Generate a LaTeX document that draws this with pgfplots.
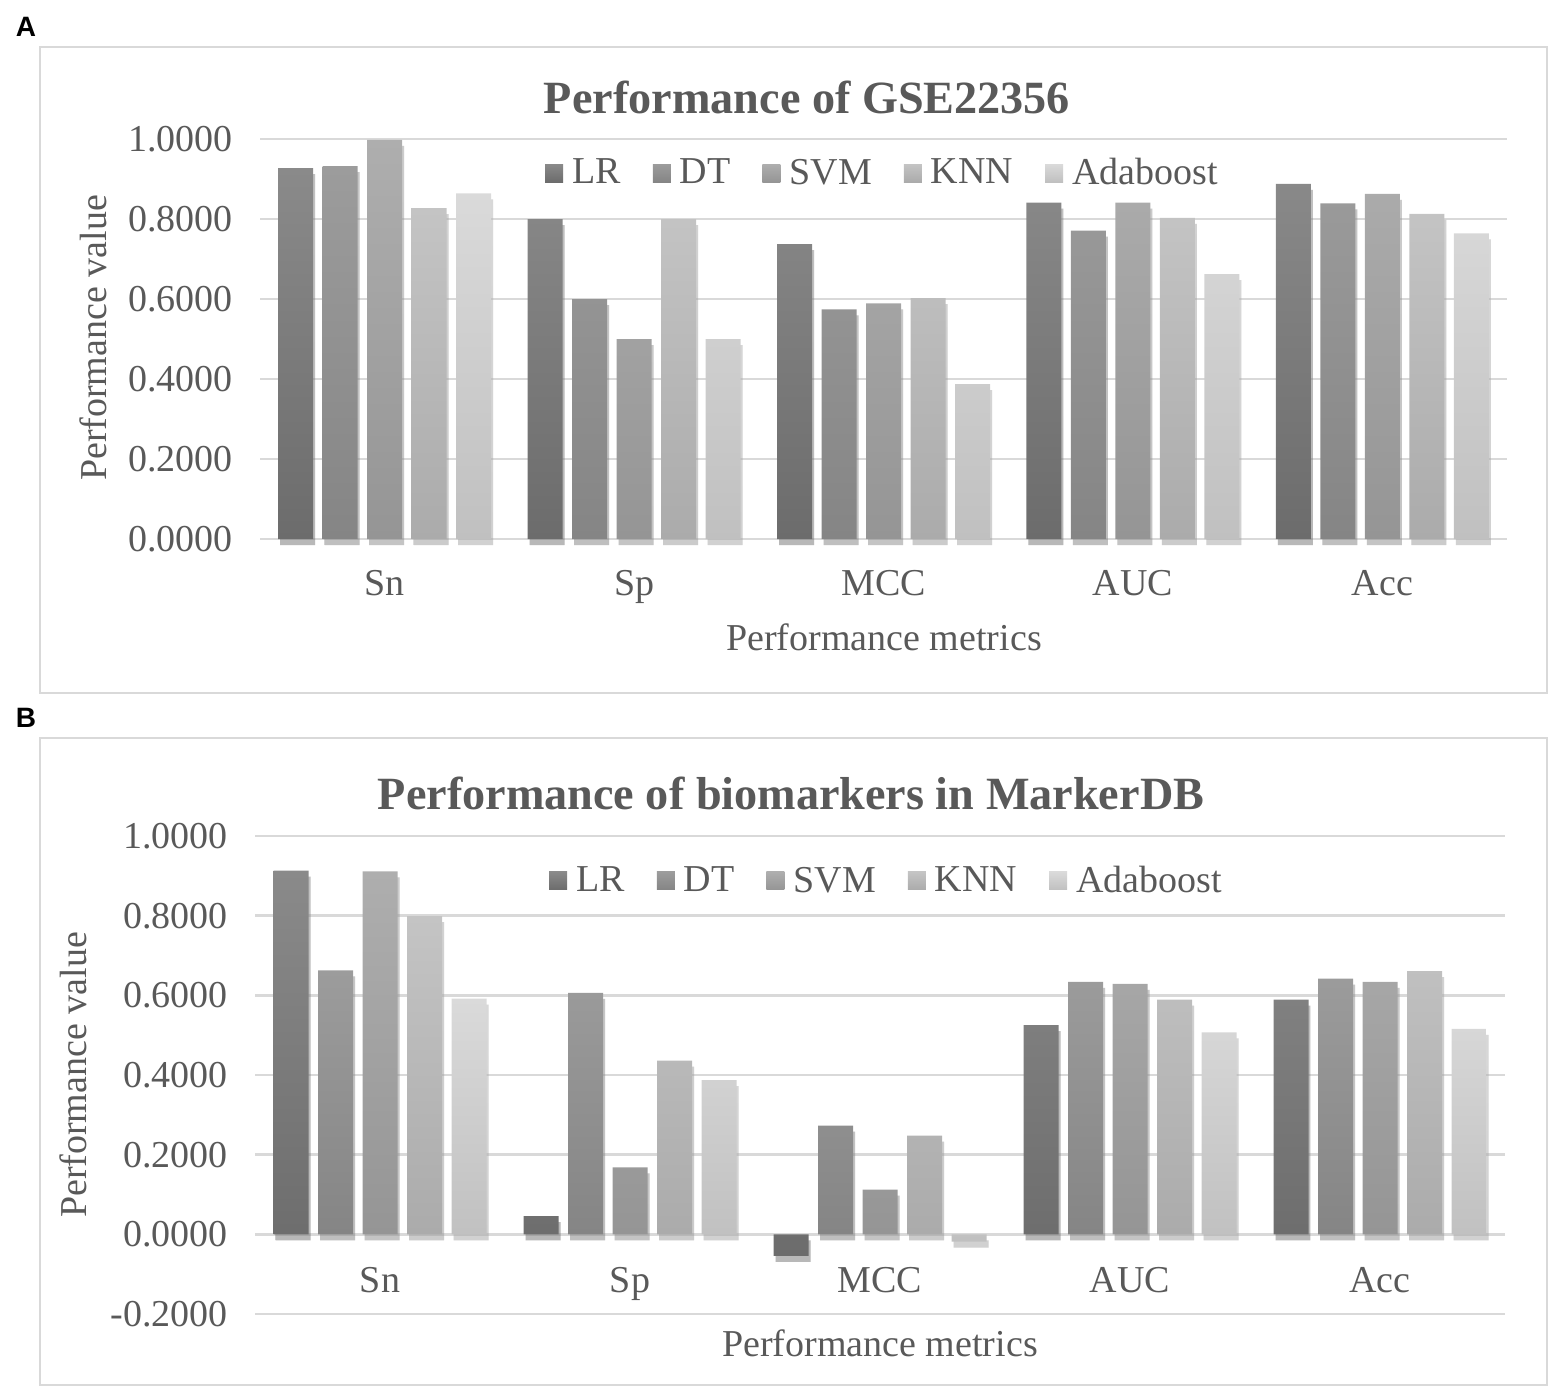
\documentclass[border=0pt]{standalone}
\usepackage{fontspec}
\setmainfont{Liberation Serif}
\newfontfamily\labfont{Liberation Sans}
\usepackage{pgfplots}
\pgfplotsset{compat=1.18}
\usetikzlibrary{shadows}
\definecolor{txt}{HTML}{595959}
\definecolor{gridc}{HTML}{D9D9D9}
\definecolor{boxc}{HTML}{D9D9D9}
\definecolor{lrT}{HTML}{8A8A8A}\definecolor{lrB}{HTML}{6C6C6C}
\definecolor{dtT}{HTML}{9C9C9C}\definecolor{dtB}{HTML}{858585}
\definecolor{svT}{HTML}{AEAEAE}\definecolor{svB}{HTML}{959595}
\definecolor{knT}{HTML}{C4C4C4}\definecolor{knB}{HTML}{ABABAB}
\definecolor{adT}{HTML}{DADADA}\definecolor{adB}{HTML}{C0C0C0}

\pgfplotstableread{
x LR DT SVM KNN Ada
0 0.927 0.932 0.998 0.827 0.864
1 0.800 0.600 0.500 0.800 0.500
2 0.737 0.574 0.589 0.602 0.387
3 0.841 0.771 0.841 0.803 0.662
4 0.888 0.839 0.863 0.813 0.764
}\dataA
\pgfplotstableread{
x LR DT SVM KNN Ada
0 0.913 0.663 0.911 0.799 0.592
1 0.046 0.606 0.168 0.436 0.387
2 -0.054 0.273 0.112 0.248 -0.018
3 0.525 0.634 0.629 0.589 0.507
4 0.589 0.642 0.634 0.661 0.516
}\dataB

\pgfplotsset{
  barsty/.style={ybar, bar width=17.5pt,
    enlargelimits=false, xmin=-0.5, xmax=4.5, clip=false,
    scale only axis,
    axis line style={draw=none}, tick style={draw=none},
    ymajorgrids, grid style={line width=1.2pt, draw=gridc},
    xtick={0,1,2,3,4}, xticklabels={Sn,Sp,MCC,AUC,Acc},
    ticklabel style={font=\fontsize{19}{22}\selectfont, text=txt},
    yticklabel style={xshift=-10pt},
    xticklabel style={anchor=base},
    legend columns=-1,
    legend style={draw=none, fill=none, font=\fontsize{19}{22}\selectfont, text=txt,
      /tikz/every odd column/.append style={column sep=2.5pt},
      /tikz/every even column/.append style={column sep=14pt}},
    legend image code/.code={\path[##1, draw=none] (0pt,-4.5pt) rectangle (9pt,4.5pt);},
  },
  bs/.style n args={3}{draw=none, top color=#1, bottom color=#2, bar shift=#3,
    drop shadow={shadow xshift=1pt, shadow yshift=-3pt, opacity=0.3}},
}

\begin{document}
\begin{tikzpicture}
\useasboundingbox (0,0) rectangle (781pt,-696pt);
% panel frames
\draw[boxc, line width=1.1pt] (20pt,-23.5pt) rectangle (773.5pt,-346.5pt);
\draw[boxc, line width=1.1pt] (20pt,-369pt) rectangle (773.5pt,-692.5pt);
\node[font=\labfont\bfseries\fontsize{14}{16}\selectfont] at (13pt,-13.5pt) {A};
\node[font=\labfont\bfseries\fontsize{14}{16}\selectfont] at (13pt,-359pt) {B};

% ---------- Panel A ----------
\begin{axis}[barsty, at={(130pt,-269.5pt)}, anchor=south west,
  width=623.5pt, height=200pt, ymin=0, ymax=1,
  ytick={0,0.2,0.4,0.6,0.8,1},
  yticklabels={0.0000,0.2000,0.4000,0.6000,0.8000,1.0000},
  xticklabel style={yshift=-24pt},
  legend style={at={(0.5,0.915)}, anchor=center}]
\addplot[forget plot, bs={lrT}{lrB}{-44.5pt}] table[x=x,y=LR]{\dataA};
\addplot[forget plot, bs={dtT}{dtB}{-22.25pt}] table[x=x,y=DT]{\dataA};
\addplot[forget plot, bs={svT}{svB}{0pt}] table[x=x,y=SVM]{\dataA};
\addplot[forget plot, bs={knT}{knB}{22.25pt}] table[x=x,y=KNN]{\dataA};
\addplot[forget plot, bs={adT}{adB}{44.5pt}] table[x=x,y=Ada]{\dataA};
\addlegendimage{top color=lrT, bottom color=lrB}\addlegendentry{LR}
\addlegendimage{top color=dtT, bottom color=dtB}\addlegendentry{DT}
\addlegendimage{top color=svT, bottom color=svB}\addlegendentry{SVM}
\addlegendimage{top color=knT, bottom color=knB}\addlegendentry{KNN}
\addlegendimage{top color=adT, bottom color=adB}\addlegendentry{Adaboost}
\end{axis}
\node[font=\bfseries\fontsize{23.1}{27}\selectfont, text=txt] at (403.5pt,-48.5pt) {Performance of GSE22356};
\node[rotate=90, font=\fontsize{19}{22}\selectfont, text=txt] at (46.5pt,-169pt) {Performance value};
\node[font=\fontsize{19}{22}\selectfont, text=txt] at (442pt,-318.5pt) {Performance metrics};

% ---------- Panel B ----------
\begin{axis}[barsty, at={(127.5pt,-657pt)}, anchor=south west,
  width=625pt, height=239pt, ymin=-0.2, ymax=1,
  ytick={-0.2,0,0.2,0.4,0.6,0.8,1},
  yticklabels={-0.2000,0.0000,0.2000,0.4000,0.6000,0.8000,1.0000},
  xticklabel style={yshift=15pt},
  legend style={at={(0.506,0.906)}, anchor=center}]
\addplot[forget plot, bs={lrT}{lrB}{-44.5pt}] table[x=x,y=LR]{\dataB};
\addplot[forget plot, bs={dtT}{dtB}{-22.25pt}] table[x=x,y=DT]{\dataB};
\addplot[forget plot, bs={svT}{svB}{0pt}] table[x=x,y=SVM]{\dataB};
\addplot[forget plot, bs={knT}{knB}{22.25pt}] table[x=x,y=KNN]{\dataB};
\addplot[forget plot, bs={adT}{adB}{44.5pt}] table[x=x,y=Ada]{\dataB};
\addlegendimage{top color=lrT, bottom color=lrB}\addlegendentry{LR}
\addlegendimage{top color=dtT, bottom color=dtB}\addlegendentry{DT}
\addlegendimage{top color=svT, bottom color=svB}\addlegendentry{SVM}
\addlegendimage{top color=knT, bottom color=knB}\addlegendentry{KNN}
\addlegendimage{top color=adT, bottom color=adB}\addlegendentry{Adaboost}
\end{axis}
\node[font=\bfseries\fontsize{23.1}{27}\selectfont, text=txt] at (395.5pt,-396.5pt) {Performance of biomarkers in MarkerDB};
\node[rotate=90, font=\fontsize{19}{22}\selectfont, text=txt] at (36.5pt,-537.5pt) {Performance value};
\node[font=\fontsize{19}{22}\selectfont, text=txt] at (440pt,-671.5pt) {Performance metrics};
\end{tikzpicture}
\end{document}
